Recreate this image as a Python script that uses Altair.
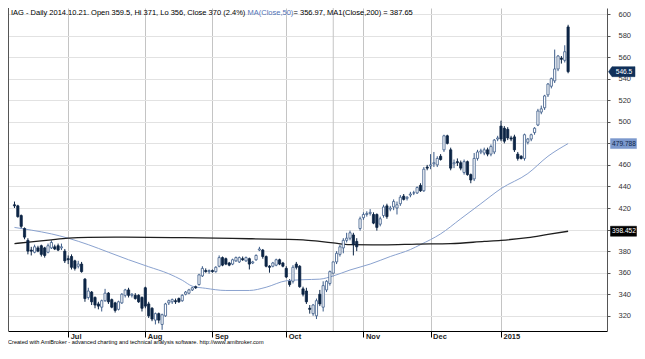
import altair as alt
import pandas as pd

# ---------------- data ----------------
opens = [423, 422, 413, 401, 390, 381, 379, 383, 385, 383,
         379, 383, 384, 385, 383, 380, 373, 375, 371, 366,
         368, 354, 337, 342, 337, 331, 328, 334, 341, 335,
         332, 326, 332, 339, 344, 339, 339, 339, 337, 346,
         331, 327, 316, 322, 312, 320, 332, 333, 334, 336,
         334, 340, 341, 344, 347, 349, 357, 362, 361, 362,
         361, 366, 374, 373, 369, 368, 371, 370, 373, 371,
         373, 369, 372, 381, 381, 375, 366, 366, 367, 372,
         369, 364, 352, 352, 368, 366, 345, 343, 327, 322,
         320, 340, 328, 344, 350, 359.5, 370, 377, 383, 390,
         392, 395, 389, 401, 411, 414, 415, 414, 414, 405,
         413, 422, 419, 421, 420, 424, 431, 429, 432, 434,
         434, 441, 436, 458, 459, 461, 460, 468, 474, 487,
         474, 461, 463, 462, 453, 463, 451, 447, 466, 472,
         471, 474, 470, 472, 484, 496, 494, 493, 485, 486,
         470, 468, 466, 481, 484, 490, 497, 509, 513, 525,
         533, 538, 549, 559, 557, 588]
highs = [426, 423, 414, 402, 392, 384, 386, 385, 386, 384,
         387, 390, 386, 387, 387, 382, 376, 377, 372, 371,
         370, 355, 346, 343, 338, 333, 335, 345, 342, 336,
         333, 334, 341, 345, 346, 341, 341, 340, 338, 347,
         333, 328, 323, 323, 322, 332, 335, 336, 336, 337,
         340, 343, 345, 347, 348, 359, 366, 364, 363, 363,
         366, 376, 375, 374, 370, 373, 375, 375, 375, 375,
         374, 371, 377, 384, 382, 376, 367, 370, 373, 373,
         370, 366, 354, 367, 370, 367, 347, 346, 330, 331,
         336, 344, 352, 353, 362, 371, 380, 386, 392, 397,
         399, 397, 392, 412, 416, 417, 419, 416, 415, 412,
         423, 424, 422, 428, 426, 432, 433, 431, 435, 436,
         440, 443, 458, 460, 470, 472, 468, 470, 488, 488,
         476, 465, 466, 464, 465, 464, 452, 471, 474, 475,
         476, 476, 479, 484, 487, 501, 496, 495, 487, 488,
         472, 469, 489, 485, 489, 495, 512, 515, 525, 536,
         541, 567, 562, 561, 571, 590]
lows = [420, 411, 401, 391, 377, 376, 378, 379, 375, 374,
        378, 382, 381, 380, 381, 369, 368, 363, 362, 364,
        360, 333, 335, 330, 327, 326, 324, 333, 331, 327,
        323, 325, 331, 337, 337, 337, 335, 332, 324, 327,
        318, 315, 312, 313, 307, 319, 330, 331, 331, 332,
        333, 339, 340, 343, 345, 348, 356, 360, 359, 360,
        360, 365, 366, 367, 366, 367, 370, 369, 371, 370,
        363, 368, 371, 380, 373, 365, 360, 365, 366, 367,
        365, 355, 347, 350, 363, 346, 338, 331, 322, 320,
        317, 329, 324, 342, 348, 356, 368, 375, 378, 388,
        390, 376, 380, 399, 409, 412, 413, 405, 399, 403,
        411, 410, 417, 418, 414, 422, 427, 427, 430, 432,
        433, 435, 435, 455, 456, 458, 458, 464, 472, 479,
        455, 457, 459, 455, 451, 450, 443, 445, 464, 470,
        469, 468, 468, 470, 482, 482, 480, 483, 482, 472,
        464, 465, 464, 479, 482, 488, 496, 507, 511, 523,
        531, 536, 547, 554, 555, 545]
closes = [422, 412, 403, 393, 380, 380, 384, 380, 377, 376,
          385, 388, 382, 381, 384, 371, 372, 365, 364, 368,
          361, 336, 343, 333, 330, 329, 334, 341, 333, 328,
          325, 333, 340, 344, 339, 340, 336, 333, 327, 329,
          320, 317, 322, 316, 321, 331, 334, 335, 333, 333,
          339, 342, 344, 346, 346, 358, 364, 361, 362, 361,
          365, 374, 367, 368, 367, 372, 374, 374, 372, 374,
          368, 370, 376, 382, 375, 366, 365, 369, 372, 368,
          366, 356, 349, 365, 365, 347, 340, 333, 326, 330,
          334, 331, 348, 352, 361, 370, 378, 384, 390, 392,
          397, 386, 384, 410, 414, 415, 416, 406, 402, 410,
          421, 412, 420, 426, 423, 430, 428, 430, 433, 434,
          439, 436, 456, 457, 460, 462, 466, 465, 487, 480,
          457, 462, 462, 457, 463, 451, 446, 466, 472, 473,
          474, 470, 477, 483, 485, 484, 482, 485, 484, 474,
          466, 466, 488, 484, 488, 494, 510, 512, 524, 535,
          540, 549, 561, 558, 565, 546.5]

ma50_idx = [0, 5, 11, 16, 22, 28, 34, 40, 46, 50, 53, 57, 63, 70, 75, 81, 86,
            91, 95, 100, 106, 112, 118, 121, 127, 133, 139, 145, 153, 159, 165]
ma50_val = [402, 399.5, 396, 392, 386, 379, 372, 365.5, 359, 353, 347.5, 345.5,
            343.5, 343.5, 346.5, 352.5, 353.5, 354, 357, 362.5, 368, 375, 381.5,
            386, 396, 410, 424, 438, 452, 468, 479.788]
ma200_idx = [0, 5, 11, 16, 22, 30, 40, 50, 60, 70, 80, 86, 91, 95, 100, 110,
             120, 130, 140, 145, 153, 159, 165]
ma200_val = [387, 388.5, 390.5, 392, 392.8, 393, 392.8, 392.5, 392, 391.5, 391,
             390.5, 389, 387.65, 386, 385.8, 386.5, 387, 389, 390, 392.5, 395.5,
             398.452]

month_idx = [16, 39, 59, 81, 104, 124, 145]
month_labels = ["Jul", "Aug", "Sep", "Oct", "Nov", "Dec", "2015"]
cursor_idx = [95]
y_ticks = [320, 340, 360, 380, 400, 420, 440, 460, 480, 500, 520, 540, 560, 580, 600]
y_hidden_labels = [400, 480]   # covered by the value tags in the picture

tag_values = [546.5, 479.788, 398.452]
tag_labels = ["546.5", "479.788", "398.452"]

title_parts = ["IAG - Daily 2014.10.21. Open 359.5, Hi 371, Lo 356, Close 370 (2.4%) ",
               "MA(Close,50)",
               " = 356.97, MA1(Close,200) = 387.65"]
footer_text = "Created with AmiBroker - advanced charting and technical analysis software. http://www.amibroker.com"

# ---------------- chart ----------------
W, H = 599, 323
FONT = "Liberation Sans, Arial, sans-serif"
UP = "#3b5b88"
DOWN = "#0c2545"

bars = pd.DataFrame({"i": list(range(len(opens))), "open": opens, "high": highs,
                     "low": lows, "close": closes})
ma50 = pd.DataFrame({"i": ma50_idx, "v": ma50_val})
ma200 = pd.DataFrame({"i": ma200_idx, "v": ma200_val})

xs = alt.Scale(domain=[-0.44, 175.1], nice=False, zero=False)
ys = alt.Scale(domain=[305.9, 605.57], nice=False, zero=False)

label_expr = "''"
for k, lab in reversed(list(zip(month_idx, month_labels))):
    label_expr = f"datum.value == {k} ? '{lab}' : ({label_expr})"
y_label_expr = " || ".join(f"datum.value == {v}" for v in y_hidden_labels) + " ? '' : datum.label"

x_axis = alt.Axis(values=month_idx, labelExpr=label_expr, grid=True, gridColor="#c4c4c4",
                  tickSize=6, tickColor="#000", domainColor="#000", domainWidth=1,
                  labelAlign="left", labelBaseline="top", labelPadding=-5, labelOffset=2,
                  labelFont=FONT, labelFontSize=7.5, labelFontWeight="bold", labelColor="#222",
                  labelFlush=False, labelOverlap=False, title=None)
y_axis = alt.Axis(orient="right", values=y_ticks, labelExpr=y_label_expr, grid=True,
                  gridColor="#e2e2e2", tickSize=3, tickColor="#555", domainColor="#555",
                  labelPadding=8, labelFont=FONT, labelFontSize=7.5, labelColor="#333",
                  title=None)

X = lambda f: alt.X(f, scale=xs, axis=x_axis)
Y = lambda f: alt.Y(f, scale=ys, axis=y_axis)

up_test = alt.datum.close >= alt.datum.open

wicks = alt.Chart(bars).mark_rule(strokeWidth=1, clip=True).encode(
    x=X("i:Q"), y=Y("low:Q"), y2="high:Q",
    stroke=alt.condition(up_test, alt.value(UP), alt.value(DOWN)),
)
bodies = alt.Chart(bars).mark_bar(size=2.2, strokeWidth=0.8, clip=True).encode(
    x=X("i:Q"), y=Y("open:Q"), y2="close:Q",
    fill=alt.condition(up_test, alt.value("#ffffff"), alt.value(DOWN)),
    stroke=alt.condition(up_test, alt.value(UP), alt.value(DOWN)),
)
cursor = alt.Chart(pd.DataFrame({"i": cursor_idx})).mark_rule(color="#c4c4c4").encode(
    x=X("i:Q"))
line50 = alt.Chart(ma50).mark_line(color="#8aa2cf", strokeWidth=1, interpolate="monotone").encode(
    x=X("i:Q"), y=Y("v:Q"))
line200 = alt.Chart(ma200).mark_line(color="#1e1e1e", strokeWidth=1.3, interpolate="monotone").encode(
    x=X("i:Q"), y=Y("v:Q"))

left_border = alt.Chart(pd.DataFrame({"a": [0]})).mark_rule(color="#555", strokeWidth=1).encode(
    x=alt.value(0.5), y=alt.value(0), y2=alt.value(H))

title_styles = [(3, "#000"), (239.5, "#4f72b6"), (285.5, "#000")]
titles = []
for txt, (tx, col) in zip(title_parts, title_styles):
    titles.append(alt.Chart(pd.DataFrame({"t": [txt]})).mark_text(
        align="left", baseline="top", font=FONT, fontSize=7.5, color=col).encode(
        x=alt.value(tx), y=alt.value(1), text="t:N"))

footer = alt.Chart(pd.DataFrame({"t": [footer_text]})).mark_text(
    align="left", baseline="middle", font=FONT, fontSize=5.6, color="#000").encode(
    x=alt.value(0), y=alt.value(H + 11), text="t:N")

tag_styles = [
    ("M-1.5,0L-1.15,-0.5L1.15,-0.5L1.15,0.5L-1.15,0.5Z", 615.5, "#10305a", "#ffffff"),
    ("M-1.3,-0.5L1.3,-0.5L1.3,0.5L-1.3,0.5Z", 615.5, "#7b98cd", "#0c2545"),
    ("M-1.3,-0.5L1.3,-0.5L1.3,0.5L-1.3,0.5Z", 615.5, "#000000", "#ffffff"),
]
tags = []
for v, lab, (shape, cx, bg, fg) in zip(tag_values, tag_labels, tag_styles):
    base = alt.Chart(pd.DataFrame({"v": [v], "t": [lab]}))
    tags.append(base.mark_point(shape=shape, size=400, filled=True, fill=bg, stroke=bg,
                                strokeWidth=0.5, opacity=1).encode(
        x=alt.value(cx), y=Y("v:Q")))
    tags.append(base.mark_text(font=FONT, fontSize=6.6, color=fg, align="center",
                               baseline="middle").encode(
        x=alt.value(cx + 0.5), y=Y("v:Q"), text="t:N"))

chart = alt.layer(wicks, cursor, line50, line200, bodies, left_border, *titles, footer, *tags).properties(
    width=W, height=H,
    autosize=alt.AutoSizeParams(type="none"),
    padding={"left": 0, "top": 0, "right": 30, "bottom": 15},
    background="#ffffff",
).configure_view(stroke=None)

chart.save("out.html", embed_options={"renderer": "svg", "actions": False})
